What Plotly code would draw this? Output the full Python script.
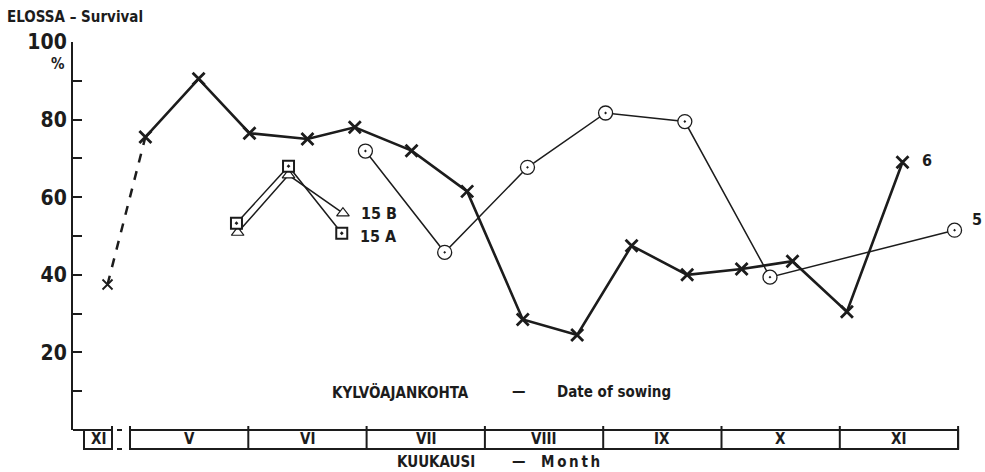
import plotly.graph_objects as go

# ---- data (x = sowing date in month units; 5.0 = start of May) ----
s6_x = [4.81, 5.13, 5.58, 6.01, 6.50, 6.90, 7.38, 7.85, 8.32, 8.78, 9.24, 9.71, 10.17, 10.60, 11.06, 11.53]
s6_y = [37.5, 75.5, 90.5, 76.5, 75.0, 78.0, 72.0, 61.5, 28.5, 24.5, 47.5, 40.0, 41.5, 43.5, 30.5, 69.0]

s5_x = [6.99, 7.66, 8.36, 9.02, 9.69, 10.41, 11.97]
s5_y = [71.9, 45.8, 67.7, 81.7, 79.5, 39.4, 51.5]

s15a_x = [5.90, 6.34, 6.79]
s15a_y = [53.3, 68.0, 50.7]
s15b_x = [5.91, 6.34, 6.80]
s15b_y = [50.9, 65.7, 55.9]

months = ["V", "VI", "VII", "VIII", "IX", "X", "XI"]
month_start = [5, 6, 7, 8, 9, 10, 11]
y_ticks = [10, 20, 30, 40, 50, 60, 70, 80, 90, 100]
y_ticktext = ["", "20", "", "40", "", "60", "", "80", "", "100"]

FONT = "DejaVu Sans Condensed, Liberation Sans Narrow, Arial Narrow, sans-serif"
INK = "#1c1c1c"

W, H = 985, 472
L, R, T, B = 73, 10, 42, 42
PW, PH = W - L - R, H - T - B
PXM = 118.3  # px per month
x0 = 5 - (130 - L) / PXM
x1 = x0 + PW / PXM


def px2m(px):
    return 5 + (px - 130) / PXM


def pyp(py):
    return (H - B - py) / PH


def pxp(px):
    return (px - L) / PW


fig = go.Figure()

# dashed start of series 6
fig.add_trace(go.Scatter(x=s6_x[:2], y=s6_y[:2], mode="lines",
                         line=dict(color=INK, width=2.5, dash="dash"),
                         showlegend=False, hoverinfo="skip"))
fig.add_trace(go.Scatter(x=s6_x[:1], y=s6_y[:1], mode="markers",
                         marker=dict(symbol="x-thin", size=10, line=dict(width=1.8, color=INK)),
                         showlegend=False))
fig.add_trace(go.Scatter(x=s6_x[1:], y=s6_y[1:], mode="lines+markers",
                         line=dict(color=INK, width=2.6),
                         marker=dict(symbol="x-thin", size=12, line=dict(width=2.8, color=INK)),
                         name="6", showlegend=False))

# series 5
fig.add_trace(go.Scatter(x=s5_x, y=s5_y, mode="lines",
                         line=dict(color=INK, width=1.5), showlegend=False))
fig.add_trace(go.Scatter(x=s5_x, y=s5_y, mode="markers",
                         marker=dict(symbol="circle", size=14, color="white", line=dict(width=0)),
                         showlegend=False, hoverinfo="skip"))
fig.add_trace(go.Scatter(x=s5_x, y=s5_y, mode="markers",
                         marker=dict(symbol="circle-open-dot", size=14, color=INK, line=dict(width=1.3)),
                         name="5", showlegend=False))

# series 15 B
fig.add_trace(go.Scatter(x=s15b_x, y=s15b_y, mode="lines",
                         line=dict(color=INK, width=1.5), showlegend=False))
fig.add_trace(go.Scatter(x=s15b_x, y=s15b_y, mode="markers",
                         marker=dict(symbol="triangle-up", size=11, color="white",
                                     line=dict(width=1.2, color=INK)),
                         name="15 B", showlegend=False))
# series 15 A
fig.add_trace(go.Scatter(x=s15a_x, y=s15a_y, mode="lines",
                         line=dict(color=INK, width=1.5), showlegend=False))
fig.add_trace(go.Scatter(x=s15a_x, y=s15a_y, mode="markers",
                         marker=dict(symbol="square", size=11, color="white", line=dict(width=0)),
                         showlegend=False, hoverinfo="skip"))
fig.add_trace(go.Scatter(x=s15a_x, y=s15a_y, mode="markers",
                         marker=dict(symbol="square-open-dot", size=11, color=INK, line=dict(width=2)),
                         name="15 A", showlegend=False))

shapes = []
box_bot = pyp(449)
tick_top = pyp(426)
lw = 2
# baseline from y axis to XI box
shapes.append(dict(type="line", xref="x", yref="paper", x0=x0, x1=px2m(112), y0=0, y1=0,
                   line=dict(color=INK, width=lw)))
# previous-year XI box
shapes.append(dict(type="rect", xref="x", yref="paper", x0=px2m(84), x1=px2m(112), y0=box_bot, y1=0,
                   line=dict(color=INK, width=lw)))
shapes.append(dict(type="line", xref="x", yref="paper", x0=px2m(112), x1=px2m(112), y0=0, y1=tick_top,
                   line=dict(color=INK, width=lw)))
# break marks
for yy in (0, box_bot):
    shapes.append(dict(type="line", xref="x", yref="paper", x0=px2m(117), x1=px2m(122), y0=yy, y1=yy,
                       line=dict(color=INK, width=lw)))
# main month band
shapes.append(dict(type="rect", xref="x", yref="paper", x0=month_start[0], x1=month_start[-1] + 1,
                   y0=box_bot, y1=0, line=dict(color=INK, width=lw)))
for m in month_start + [month_start[-1] + 1]:
    shapes.append(dict(type="line", xref="x", yref="paper", x0=m, x1=m, y0=box_bot, y1=tick_top,
                       line=dict(color=INK, width=lw)))

ann = []
mfont = dict(family=FONT, size=15, color=INK, weight="bold")
for name, m in zip(months, month_start):
    ann.append(dict(x=m + 0.5, y=(0 + box_bot) / 2, xref="x", yref="paper", text=name,
                    showarrow=False, font=mfont, xanchor="center", yanchor="middle"))
ann.append(dict(x=px2m(98), y=box_bot / 2, xref="x", yref="paper", text="XI",
                showarrow=False, font=mfont, xanchor="center", yanchor="middle"))

lfont = dict(family=FONT, size=15, color=INK, weight="bold")
for txt, px, py in [("KYLVÖAJANKOHTA", 400, 392), ("—", 519, 391), ("Date of sowing", 614, 392),
                    ("KUUKAUSI", 436, 462), ("—", 519, 461), ("M\u2009o\u2009n\u2009t\u2009h", 570, 462)]:
    ann.append(dict(x=pxp(px), y=pyp(py), xref="paper", yref="paper", text=txt, showarrow=False,
                    font=lfont, xanchor="center", yanchor="middle"))

ann.append(dict(x=pxp(5), y=pyp(17), xref="paper", yref="paper", text="ELOSSA – Survival",
                showarrow=False, font=dict(family=FONT, size=15, color=INK, weight="bold"),
                xanchor="left", yanchor="middle"))
ann.append(dict(x=pxp(58), y=pyp(64), xref="paper", yref="paper", text="%",
                showarrow=False, font=dict(family=FONT, size=15, color=INK, weight="bold"),
                xanchor="center", yanchor="middle"))

sfont = dict(family=FONT, size=16, color=INK, weight="bold")
ann.append(dict(x=s6_x[-1], y=s6_y[-1], xref="x", yref="y", text="6", showarrow=False, font=sfont,
                xanchor="left", yanchor="middle", xshift=17, yshift=2))
ann.append(dict(x=s5_x[-1], y=s5_y[-1], xref="x", yref="y", text="5", showarrow=False, font=sfont,
                xanchor="left", yanchor="middle", xshift=15, yshift=11))
ann.append(dict(x=s15b_x[-1], y=s15b_y[-1], xref="x", yref="y", text="15 B", showarrow=False, font=sfont,
                xanchor="left", yanchor="middle", xshift=16, yshift=0))
ann.append(dict(x=s15a_x[-1], y=s15a_y[-1], xref="x", yref="y", text="15 A", showarrow=False, font=sfont,
                xanchor="left", yanchor="middle", xshift=16, yshift=-3))

fig.update_layout(
    width=W, height=H,
    margin=dict(l=L, r=R, t=T, b=B, autoexpand=False),
    paper_bgcolor="white", plot_bgcolor="white",
    showlegend=False,
    shapes=shapes, annotations=ann,
    xaxis=dict(range=[x0, x1], showgrid=False, zeroline=False, showline=False,
               showticklabels=False, ticks=""),
    yaxis=dict(range=[0, 100], showgrid=False, zeroline=False, showline=True, linecolor=INK,
               linewidth=2, ticks="inside", ticklen=9, tickwidth=2, tickcolor=INK,
               tickvals=y_ticks, ticktext=y_ticktext,
               tickfont=dict(family=FONT, size=21, color=INK, weight="bold")),
)

fig.write_html("out.html")
